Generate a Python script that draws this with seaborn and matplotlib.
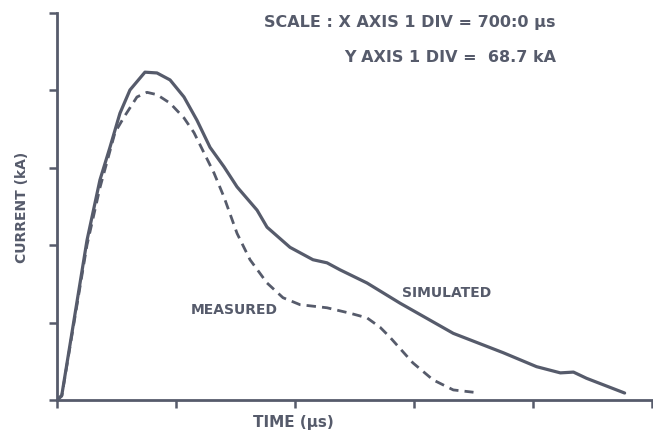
import numpy as np
import pandas as pd
import seaborn as sns
import matplotlib.pyplot as plt

# values in divisions (x: 1 div = 700 us, y: 1 div = 68.7 kA)
sim_x = [0, 0.04, 0.252, 0.361, 0.445, 0.529, 0.613, 0.739, 0.84, 0.95, 1.067, 1.176,
         1.286, 1.403, 1.513, 1.681, 1.765, 1.958, 2.151, 2.269, 2.378, 2.605, 2.882,
         3.33, 3.75, 4.03, 4.23, 4.34, 4.45, 4.77]
sim_y = [0, 0.06, 2.06, 2.84, 3.26, 3.70, 4.00, 4.23, 4.22, 4.13, 3.91, 3.61,
         3.26, 3.01, 2.75, 2.45, 2.23, 1.97, 1.81, 1.77, 1.68, 1.51, 1.25,
         0.86, 0.61, 0.43, 0.35, 0.36, 0.28, 0.09]
meas_x = [0, 0.04, 0.252, 0.361, 0.487, 0.563, 0.672, 0.756, 0.84, 0.95, 1.067, 1.151,
          1.235, 1.319, 1.403, 1.513, 1.622, 1.765, 1.899, 2.042, 2.269, 2.462, 2.605,
          2.714, 2.798, 2.99, 3.16, 3.33, 3.50]
meas_y = [0, 0.05, 2.0, 2.74, 3.45, 3.65, 3.91, 3.97, 3.94, 3.83, 3.64, 3.45,
          3.19, 2.93, 2.62, 2.15, 1.81, 1.51, 1.32, 1.23, 1.19, 1.12, 1.06,
          0.94, 0.81, 0.48, 0.26, 0.13, 0.10]

sim = pd.DataFrame({"x": sim_x, "y": sim_y})
meas = pd.DataFrame({"x": meas_x, "y": meas_y})

ink = "#565b6b"
sns.set_style("white")
plt.rcParams["font.family"] = ["DejaVu Sans"]

fig = plt.figure(figsize=(6.53, 4.33), dpi=100)
ax = fig.add_axes([57 / 653, 33 / 433, 595 / 653, 387.5 / 433])

sns.lineplot(x="x", y="y", data=sim, ax=ax, color=ink, lw=2.3, sort=False)
sns.lineplot(x="x", y="y", data=meas, ax=ax, color=ink, lw=2.0, sort=False,
             linestyle=(0, (3.4, 2.2)))

ax.set_xlim(0, 5)
ax.set_ylim(0, 5)
ax.set_xticks(np.arange(0, 6))
ax.set_yticks(np.arange(0, 6))
ax.set_xticklabels([])
ax.set_yticklabels([])
ax.tick_params(direction="out", length=6, width=1.8, color=ink, bottom=True, left=True)
for s in ["top", "right"]:
    ax.spines[s].set_visible(False)
for s in ["left", "bottom"]:
    ax.spines[s].set_color(ink)
    ax.spines[s].set_linewidth(2)
ax.set_xlabel("")
ax.set_ylabel("")

txt = dict(color=ink, fontweight="bold", fontsize=10)
big = dict(color=ink, fontweight="bold", fontsize=11.5)
fig.text(22 / 653, 1 - 207 / 433, "CURRENT (kA)", rotation=90, ha="center", va="center", **txt)
fig.text(293 / 653, 1 - 423 / 433, "TIME (µs)", ha="center", va="center",
         color=ink, fontweight="bold", fontsize=11)
fig.text(556 / 653, 1 - 22 / 433, "SCALE : X AXIS 1 DIV = 700:0 µs", ha="right", va="center", **big)
fig.text(556 / 653, 1 - 57 / 433, "Y AXIS 1 DIV =  68.7 kA", ha="right", va="center", **big)
ax.text(1.12, 1.16, "MEASURED", ha="left", va="center", **txt)
ax.text(2.9, 1.38, "SIMULATED", ha="left", va="center", **txt)

fig.savefig("out.png", dpi=100)
